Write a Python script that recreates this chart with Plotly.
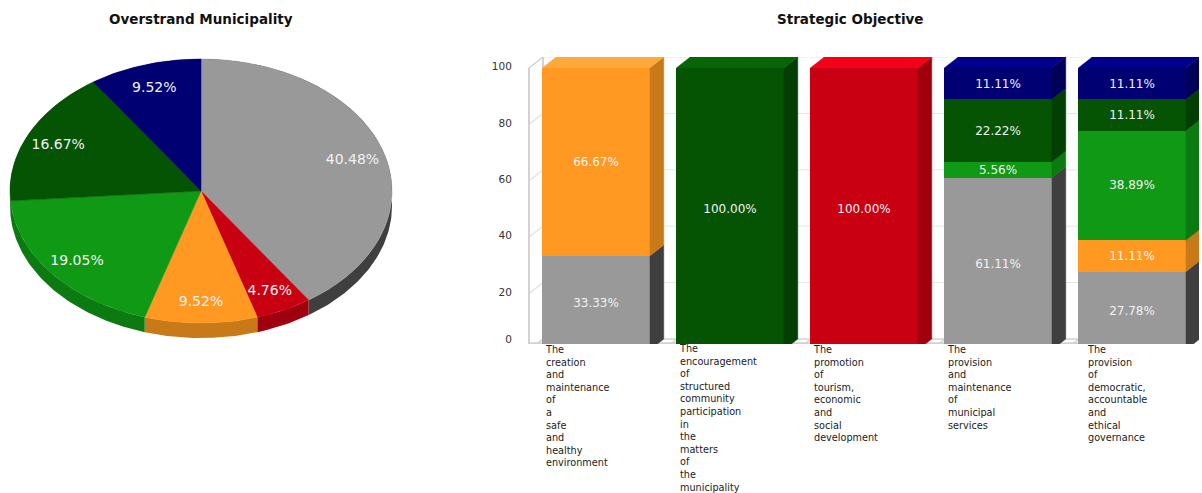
import math
import plotly.graph_objects as go

W, H = 1202, 493
FONT = "DejaVu Sans"

# ---------- data ----------
pie_title = "Overstrand Municipality"
bar_title = "Strategic Objective"
pie_names = ["Grey", "Red", "Orange", "Green", "Dark green", "Navy"]
pie_values = [40.48, 4.76, 9.52, 19.05, 16.67, 9.52]

categories = [
    "The creation and maintenance of a safe and healthy environment",
    "The encouragement of structured community participation in the matters of the municipality",
    "The promotion of tourism, economic and social development",
    "The provision and maintenance of municipal services",
    "The provision of democratic, accountable and ethical governance",
]
grey_values = [33.33, 0, 0, 61.11, 27.78]
red_values = [0, 0, 100.00, 0, 0]
orange_values = [66.67, 0, 0, 0, 11.11]
green_values = [0, 0, 0, 5.56, 38.89]
darkgreen_values = [0, 100.00, 0, 22.22, 11.11]
navy_values = [0, 0, 0, 11.11, 11.11]
y_ticks = [0, 20, 40, 60, 80, 100]

# ---------- style ----------
FRONT = ["#999999", "#C90012", "#FF9922", "#0F9915", "#045404", "#000072"]
SIDE = ["#3F3F3F", "#A0000E", "#C87A18", "#0B7A10", "#033F03", "#000058"]
TOP = ["#B0B0B0", "#F40018", "#FFA83C", "#12A818", "#066606", "#00008C"]
series = [grey_values, red_values, orange_values, green_values, darkgreen_values, navy_values]

# pie geometry (pixels of the page)
CX, CY, RX, RY, DEPTH = 201, 191, 191, 132, 15
# bar geometry (pixels of the page)
PLOT_L, PLOT_R, PLOT_T, PLOT_B = 527, 1199, 57, 344
PITCH = 134
PX_PER_UNIT = 2.82
Y_TOP = 100 + 11 / PX_PER_UNIT
Y_LOW = Y_TOP - (PLOT_B - PLOT_T) / PX_PER_UNIT
DX = 14 / PITCH
DY = 11 / PX_PER_UNIT
BAR_W = 107.5 / PITCH
label_shift = [3.5, 4, 4, 4, 10]
label_top = [343, 342, 343, 343, 343]

fig = go.Figure()


def poly(xs, ys, color, xa, ya, lw=0.5):
    fig.add_trace(go.Scatter(x=xs, y=ys, mode="lines", fill="toself", fillcolor=color,
                             line=dict(color=color, width=lw), hoverinfo="skip",
                             showlegend=False, xaxis=xa, yaxis=ya))


# ---------- pie (elliptical, with depth) ----------
total = sum(pie_values)
d = DEPTH / RY
bounds = [0.0]
for v in pie_values:
    bounds.append(bounds[-1] + v / total * 2 * math.pi)


def arc(a, b):
    n = max(4, int((b - a) * 60))
    ts = [a + (b - a) * k / n for k in range(n + 1)]
    return [math.sin(t) for t in ts], [math.cos(t) for t in ts]


for i in range(len(pie_values)):
    xs, ys = arc(bounds[i], bounds[i + 1])
    poly(xs + xs[::-1], [y - d for y in ys] + ys[::-1], SIDE[i], "x", "y", lw=0)
for i in range(len(pie_values)):
    xs, ys = arc(bounds[i], bounds[i + 1])
    poly([0] + xs + [0], [0] + ys + [0], FRONT[i], "x", "y")

mids = [(bounds[i] + bounds[i + 1]) / 2 for i in range(len(pie_values))]
fig.add_trace(go.Scatter(
    x=[0.83 * math.sin(m) for m in mids],
    y=[0.83 * math.cos(m) - 2 / RY for m in mids],
    mode="text", text=[f"{v:.2f}%" for v in pie_values],
    textfont=dict(family=FONT, size=14, color="#F2F2F2"),
    hoverinfo="skip", showlegend=False, xaxis="x", yaxis="y"))

# ---------- stacked bars ----------
xpos = list(range(len(categories)))
for s, vals in enumerate(series):
    fig.add_trace(go.Bar(
        x=xpos, y=vals, width=BAR_W, name=pie_names[s],
        marker=dict(color=FRONT[s], line=dict(width=0)),
        text=[f"{v:.2f}%" if v else "" for v in vals],
        textposition="inside", insidetextanchor="middle", constraintext="none",
        textangle=0,
        insidetextfont=dict(family=FONT, size=12, color="#F2F2F2"),
        showlegend=False, xaxis="x2", yaxis="y2"))

for c in xpos:
    base = 0
    right = c + BAR_W / 2
    last = None
    for s, vals in enumerate(series):
        if vals[c]:
            top = base + vals[c]
            poly([right, right + DX, right + DX, right],
                 [base, base + DY, top + DY, top], SIDE[s], "x2", "y2")
            base = top
            last = s
    poly([right - BAR_W, right - BAR_W + DX, right + DX, right],
         [100, 100 + DY, 100 + DY, 100], TOP[last], "x2", "y2")

# ---------- wall, floor, grid ----------
shapes = []
GRID = "#E6E6E6"
EDGE = "#D2D2D2"


def seg(x0, y0, x1, y1, color, width=1):
    shapes.append(dict(type="line", xref="x2", yref="y2", x0=x0, y0=y0, x1=x1, y1=y1,
                       layer="below", line=dict(color=color, width=width)))


left = -0.5
right_end = len(categories) - 0.5
for t in y_ticks:
    if t:
        seg(left + DX, t + DY, right_end, t + DY, GRID)
    seg(left, t, left + DX, t + DY, EDGE if t in (0, 100) else GRID, 1.5)
seg(left, 0, left, 100, EDGE, 2)
seg(left + DX, DY, left + DX, 100 + DY, EDGE, 2)
seg(left + DX, DY, right_end, DY, EDGE, 1.5)
seg(left, Y_LOW + 0.25, right_end - DX, Y_LOW + 0.25, EDGE, 2)
for c in xpos[1:]:
    seg(c - 0.5, 0, c - 0.5 + DX, DY, EDGE, 1.5)

# ---------- texts ----------
annotations = [
    dict(text=f"<b>{pie_title}</b>", x=201 / W, y=1 - 19 / H, xref="paper", yref="paper",
         xanchor="center", yanchor="middle",
         showarrow=False, font=dict(family=FONT, size=13.5, color="#111111")),
    dict(text=f"<b>{bar_title}</b>", x=850 / W, y=1 - 19 / H, xref="paper", yref="paper",
         xanchor="center", yanchor="middle",
         showarrow=False, font=dict(family=FONT, size=13.5, color="#111111")),
]
for c, name in enumerate(categories):
    annotations.append(dict(
        text="<br>".join(name.split(" ")), x=c - BAR_W / 2, xref="x2", xanchor="left",
        xshift=label_shift[c] - 2, y=1 - label_top[c] / H, yref="paper", yanchor="top", align="left",
        showarrow=False, borderpad=0,
        font=dict(family=FONT, size=9.7, color="#222222")))

fig.update_layout(
    width=W, height=H, autosize=False, margin=dict(l=0, r=0, t=0, b=0),
    paper_bgcolor="white", plot_bgcolor="rgba(0,0,0,0)",
    barmode="stack", bargap=0.2, showlegend=False,
    shapes=shapes, annotations=annotations,
    xaxis=dict(domain=[0, 420 / W], range=[-CX / RX, (420 - CX) / RX], visible=False, fixedrange=True),
    yaxis=dict(domain=[0, 1], range=[-(H - CY) / RY, CY / RY], visible=False, fixedrange=True),
    xaxis2=dict(domain=[PLOT_L / W, PLOT_R / W],
                range=[-0.5 - (529 - PLOT_L) / PITCH, len(categories) - 0.5],
                showgrid=False, zeroline=False, showticklabels=False, ticks="", anchor="y2"),
    yaxis2=dict(domain=[(H - PLOT_B) / H, (H - PLOT_T) / H], range=[Y_LOW, Y_TOP],
                tickvals=[DY if t == 0 else t + 0.5 for t in y_ticks],
                ticktext=[str(t) for t in y_ticks],
                showgrid=False, zeroline=False, ticks="outside", ticklen=12, tickcolor="rgba(0,0,0,0)",
                tickfont=dict(family=FONT, size=10.5, color="#333333"), anchor="x2"),
)

fig.write_html("out.html", config={"displayModeBar": False},
               post_script="document.body.style.margin='0';document.body.style.overflow='hidden';")
